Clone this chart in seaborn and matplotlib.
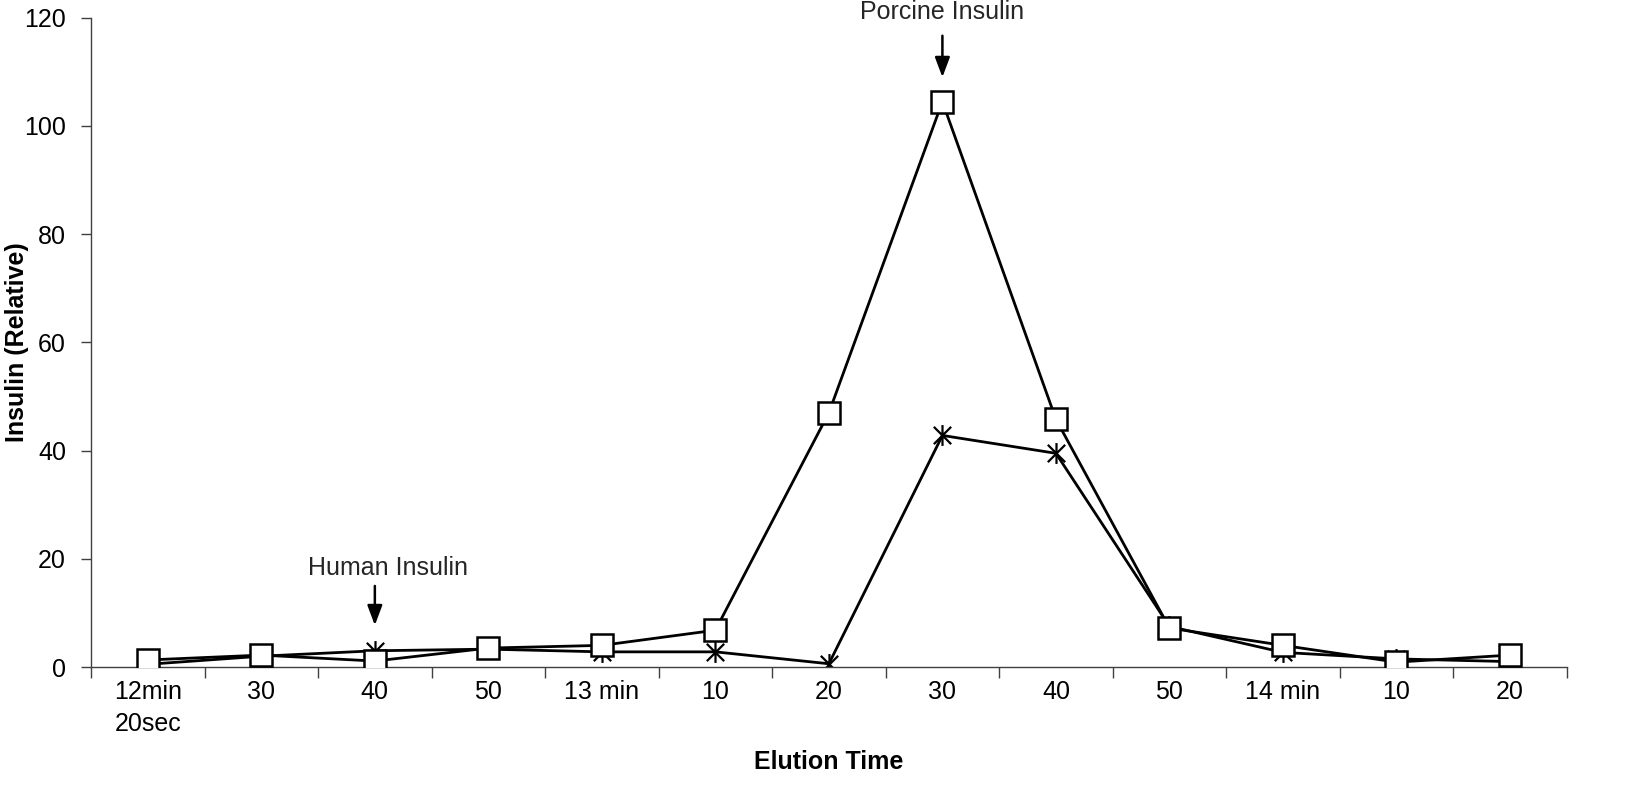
import numpy as np
import pandas as pd
import seaborn as sns
import matplotlib.pyplot as plt
from matplotlib.path import Path

# Datos
etiquetas = ["12min\n20sec", "30", "40", "50", "13 min", "10", "20",
             "30", "40", "50", "14 min", "10", "20"]
cuadrados = [1.3, 2.2, 1.1, 3.5, 4.0, 6.8, 47.0, 104.5, 45.8, 7.2, 4.0, 0.9, 2.2]
estrellas = [0.5, 2.0, 3.0, 3.3, 2.8, 2.8, 0.6, 42.8, 39.5, 7.5, 2.7, 1.5, 1.0]

pos = np.arange(len(etiquetas))
df = pd.DataFrame({"pos": pos, "cuadrados": cuadrados, "estrellas": estrellas})

# Marcador tipo asterisco (X + barra vertical)
estrella = Path(
    [(-1, -1), (1, 1), (-1, 1), (1, -1), (0, -1.2), (0, 1.2)],
    [Path.MOVETO, Path.LINETO, Path.MOVETO, Path.LINETO, Path.MOVETO, Path.LINETO],
)

sns.set_style("ticks")
plt.rcParams["font.family"] = ["Liberation Sans", "DejaVu Sans"]

fig = plt.figure(figsize=(16.32, 8.08), dpi=100)
ax = fig.add_axes([0.0558, 0.1745, 0.9042, 0.8035])

sns.lineplot(data=df, x="pos", y="estrellas", ax=ax, color="black", lw=2,
             marker=estrella, markersize=15, markeredgewidth=1.6,
             markeredgecolor="black", zorder=2)
sns.lineplot(data=df, x="pos", y="cuadrados", ax=ax, color="black", lw=2,
             marker="s", markersize=16, markerfacecolor="white",
             markeredgecolor="black", markeredgewidth=1.8, zorder=3)

ax.set_xlim(-0.5, len(etiquetas) - 0.5)
ax.set_ylim(0, 120)
ax.set_yticks(range(0, 121, 20))
ax.set_xticks(pos)
ax.set_xticklabels(etiquetas, linespacing=1.45)
ax.set_xticks(np.arange(-0.5, len(etiquetas), 1), minor=True)
ax.tick_params(axis="x", which="major", length=0, pad=9, labelsize=18, labelcolor="black")
ax.tick_params(axis="x", which="minor", length=8, color="#404040", width=1.0)
ax.tick_params(axis="y", length=7, labelsize=18, color="#404040", width=1.0,
               labelcolor="black", pad=11)
for s in ["top", "right"]:
    ax.spines[s].set_visible(False)
for s in ["left", "bottom"]:
    ax.spines[s].set_color("#404040")
    ax.spines[s].set_linewidth(1.0)

ax.set_xlabel("Elution Time", fontsize=18, fontweight="bold", color="black")
ax.set_ylabel("Insulin (Relative)", fontsize=18, fontweight="bold", color="black")
ax.xaxis.set_label_coords(0.5, -0.128)
ax.yaxis.set_label_coords(-0.042, 0.5)

# Flechas de anotacion
flecha = dict(arrowstyle="-|>,head_width=0.45,head_length=1.2", color="black", lw=1.8)
ax.annotate("", xy=(2, 7.2), xytext=(2, 15.5), arrowprops=flecha)
ax.text(2.12, 17.0, "Human Insulin", ha="center", va="baseline", fontsize=18)
ax.annotate("", xy=(7, 108.5), xytext=(7, 117.2), arrowprops=flecha, annotation_clip=False)
ax.text(7, 119.7, "Porcine Insulin", ha="center", va="baseline", fontsize=18, clip_on=False)

plt.savefig("out.png", dpi=100)
plt.close()
